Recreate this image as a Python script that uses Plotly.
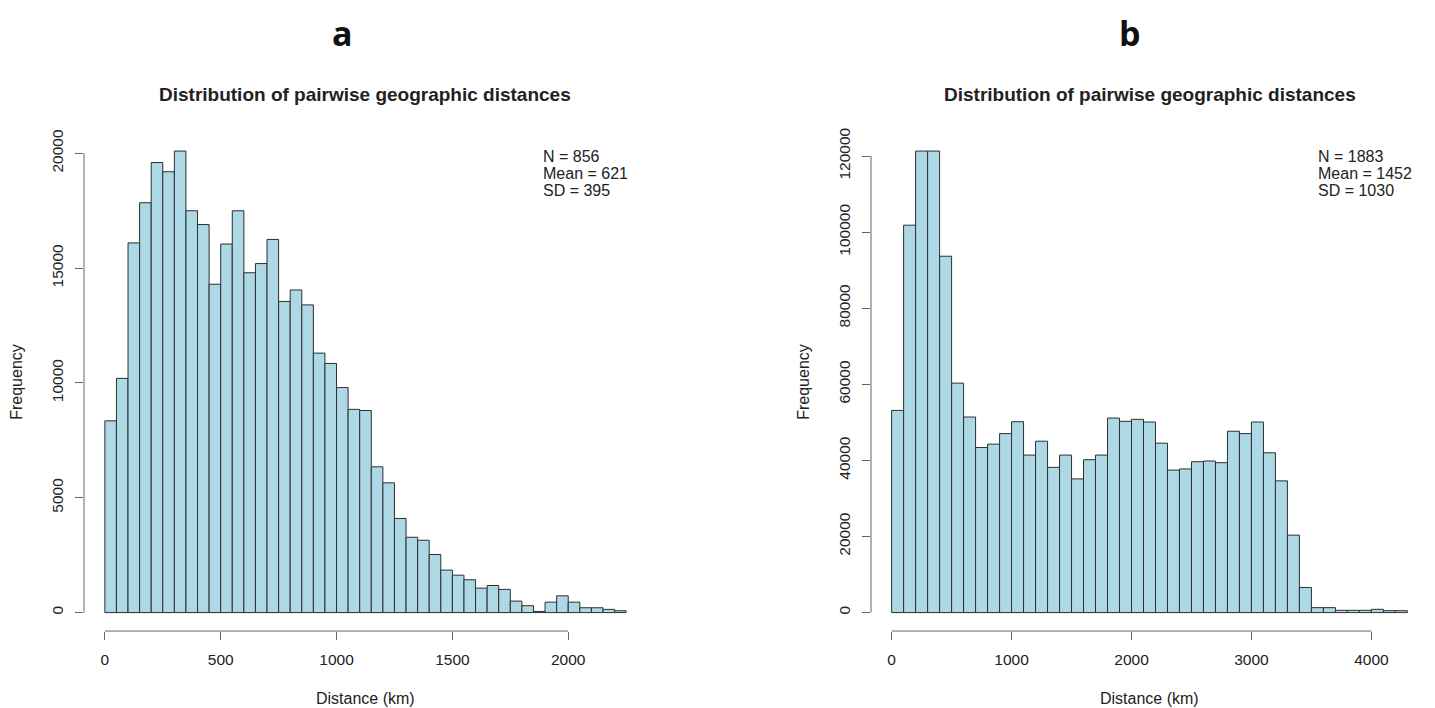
import plotly.graph_objects as go

W, H = 1435, 708

# ---------------- Panel a data ----------------
a_bin_start = 0
a_bin_width = 50
a_counts = [8350, 10200, 16100, 17850, 19600, 19200, 20100, 17500, 16900, 14300,
            16050, 17500, 14800, 15200, 16250, 13550, 14050, 13400, 11300, 10850,
            9800, 8850, 8800, 6350, 5650, 4100, 3280, 3150, 2530, 1850,
            1630, 1430, 1065, 1180, 1010, 500, 300, 50, 455, 730,
            455, 210, 210, 140, 80]
a_xticks = [0, 500, 1000, 1500, 2000]
a_yticks = [0, 5000, 10000, 15000, 20000]
a_stats = ["N = 856", "Mean = 621", "SD = 395"]

# ---------------- Panel b data ----------------
b_bin_start = 0
b_bin_width = 100
b_counts = [53140, 101820, 121300, 121300, 93660, 60300, 51400, 43390, 44270, 47040,
            50170, 41400, 45050, 38170, 41400, 35140, 40180, 41400, 51130, 50270,
            50790, 50090, 44530, 37450, 37750, 39650, 39830, 39400, 47660, 47040,
            50090, 42000, 34620, 20350, 6600, 1300, 1300, 600, 600, 600,
            860, 500, 500]
b_xticks = [0, 1000, 2000, 3000, 4000]
b_yticks = [0, 20000, 40000, 60000, 80000, 100000, 120000]
b_stats = ["N = 1883", "Mean = 1452", "SD = 1030"]

title_text = "Distribution of pairwise geographic distances"
xlab = "Distance (km)"
ylab = "Frequency"
panel_labels = ["a", "b"]

# ---------------- layout helpers (pixel -> paper) ----------------
def px(x):
    return x / W

def py(y):
    return 1 - y / H

FONT = "Liberation Sans, Arial, sans-serif"
AXIS_COL = "#666666"
TEXT_COL = "#222222"

panels = [
    dict(start=a_bin_start, bw=a_bin_width, counts=a_counts, xt=a_xticks, yt=a_yticks,
         stats=a_stats, xdom=(84, 647), letter_x=342, stats_x=541, ylab_x=17),
    dict(start=b_bin_start, bw=b_bin_width, counts=b_counts, xt=b_xticks, yt=b_yticks,
         stats=b_stats, xdom=(871, 1428), letter_x=1130, stats_x=1316, ylab_x=804),
]
ydom_px = (128.5, 630.5)

fig = go.Figure()
shapes = []
annotations = []

for i, p in enumerate(panels):
    n = len(p["counts"])
    edges_end = p["start"] + p["bw"] * n
    centers = [p["start"] + p["bw"] * (k + 0.5) for k in range(n)]
    xspan = edges_end - p["start"]
    xr = [p["start"] - 0.04 * xspan, edges_end + 0.04 * xspan]
    ymax = max(p["counts"])
    yr = [-0.04 * ymax, 1.04 * ymax]

    suffix = "" if i == 0 else str(i + 1)
    xa = "x" + suffix
    ya = "y" + suffix

    fig.add_trace(go.Bar(
        x=centers, y=p["counts"], width=[p["bw"]] * n,
        marker=dict(color="#ADD8E6", line=dict(color="#2e2e2e", width=1)),
        xaxis=xa, yaxis=ya, hoverinfo="skip", showlegend=False,
    ))

    xdom = [px(p["xdom"][0]), px(p["xdom"][1])]
    ydom = [py(ydom_px[1]), py(ydom_px[0])]

    fig.update_layout(**{
        "xaxis" + suffix: dict(
            domain=xdom, range=xr, anchor=ya, showgrid=False, zeroline=False,
            showline=False, ticks="outside", ticklen=8, tickwidth=1, tickcolor=AXIS_COL,
            tickvals=p["xt"], ticktext=[str(v) for v in p["xt"]],
            tickfont=dict(family=FONT, size=15.5, color=TEXT_COL),
            ticklabelstandoff=6, fixedrange=True,
        ),
        "yaxis" + suffix: dict(
            domain=ydom, range=yr, anchor=xa, showgrid=False, zeroline=False,
            showline=False, ticks="outside", ticklen=8, tickwidth=1, tickcolor=AXIS_COL,
            tickvals=p["yt"], ticktext=[str(v) for v in p["yt"]], tickangle=-90,
            tickfont=dict(family=FONT, size=15.5, color=TEXT_COL),
            ticklabelstandoff=6, fixedrange=True,
        ),
    })

    # R-style axis lines spanning only the tick range
    shapes.append(dict(type="line", xref=xa, yref="paper",
                       x0=min(p["xt"]), x1=max(p["xt"]), y0=ydom[0], y1=ydom[0],
                       line=dict(color=AXIS_COL, width=1)))
    shapes.append(dict(type="line", xref="paper", yref=ya,
                       x0=xdom[0], x1=xdom[0], y0=min(p["yt"]), y1=max(p["yt"]),
                       line=dict(color=AXIS_COL, width=1)))

    cx = (p["xdom"][0] + p["xdom"][1]) / 2
    # panel letter
    annotations.append(dict(text="<b>%s</b>" % panel_labels[i], x=px(p["letter_x"]), y=py(28),
                            xref="paper", yref="paper", showarrow=False,
                            xanchor="center", yanchor="middle",
                            font=dict(family="Open Sans, sans-serif", size=34, color="#111111")))
    # title
    annotations.append(dict(text="<b>%s</b>" % title_text, x=px(cx), y=py(90),
                            xref="paper", yref="paper", showarrow=False,
                            xanchor="center", yanchor="middle",
                            font=dict(family=FONT, size=19, color=TEXT_COL)))
    # x label
    annotations.append(dict(text=xlab, x=px(cx), y=py(698),
                            xref="paper", yref="paper", showarrow=False,
                            xanchor="center", yanchor="middle",
                            font=dict(family=FONT, size=16, color=TEXT_COL)))
    # y label
    annotations.append(dict(text=ylab, x=px(p["ylab_x"]), y=py((ydom_px[0] + ydom_px[1]) / 2),
                            xref="paper", yref="paper", showarrow=False, textangle=-90,
                            xanchor="center", yanchor="middle",
                            font=dict(family=FONT, size=16, color=TEXT_COL)))
    # stats text
    for j, s in enumerate(p["stats"]):
        annotations.append(dict(text=s, x=px(p["stats_x"]), y=py(153 + 17 * j),
                                xref="paper", yref="paper", showarrow=False,
                                xanchor="left", yanchor="middle",
                                font=dict(family=FONT, size=16, color=TEXT_COL)))

fig.update_layout(
    width=W, height=H,
    margin=dict(l=0, r=0, t=0, b=0),
    paper_bgcolor="white", plot_bgcolor="white",
    bargap=0, showlegend=False, hovermode=False,
    shapes=shapes, annotations=annotations,
)

fig.write_html(
    "out.html",
    config={"displayModeBar": False, "staticPlot": True},
    post_script="document.body.style.margin='0';document.body.style.overflow='hidden';",
)
